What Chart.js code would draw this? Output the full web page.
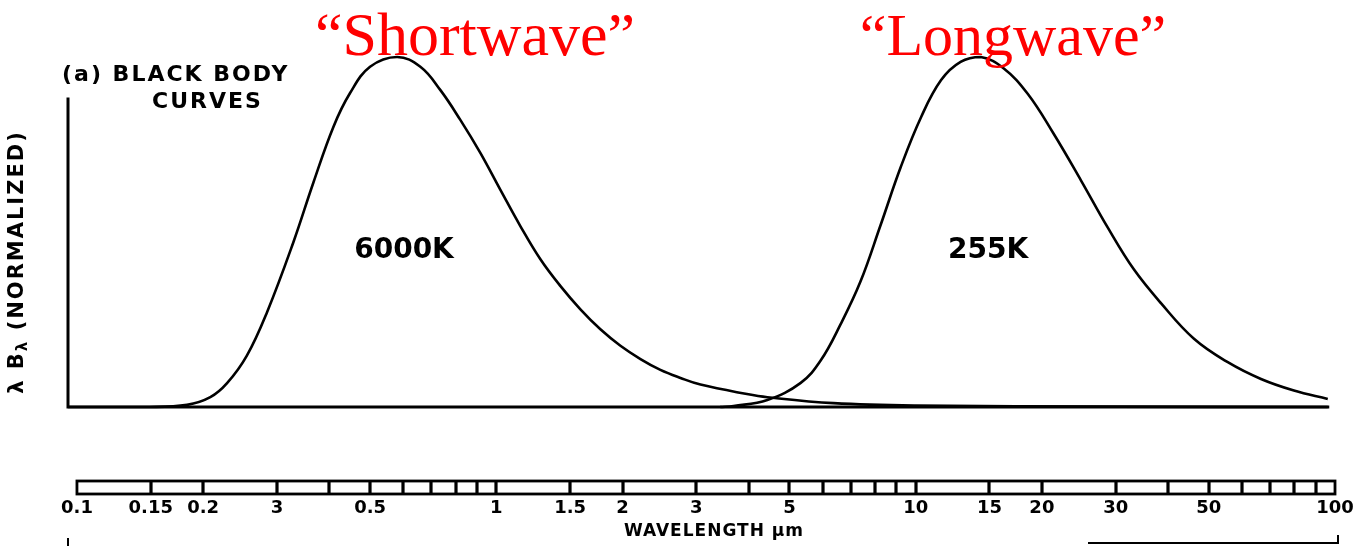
<!DOCTYPE html>
<html>
<head>
<meta charset="utf-8">
<script src="https://cdn.jsdelivr.net/npm/chart.js@4.4.1/dist/chart.umd.min.js"></script>
<style>
  html, body { margin: 0; padding: 0; background: #fff; }
  #wrap { position: relative; width: 1362px; height: 546px; }
</style>
</head>
<body>
<div id="wrap"><canvas id="bbChart"></canvas></div>
<script>
// Curva del cuerpo negro a 6000 K (onda corta)
const shortLambda = [0.0952, 0.149, 0.183, 0.208, 0.228, 0.254, 0.284, 0.328, 0.366, 0.409, 0.448, 0.500, 0.580,
  0.659, 0.735, 0.820, 0.916, 1.022, 1.141, 1.274, 1.421, 1.587, 1.771, 1.977, 2.207, 2.462, 2.749, 3.068,
  3.96, 4.43, 6.37, 10, 30, 96.1];
const shortValue = [0, 0, 0.006, 0.028, 0.068, 0.146, 0.271, 0.470, 0.640, 0.801, 0.897, 0.972, 1.0,
  0.972, 0.906, 0.821, 0.726, 0.621, 0.517, 0.422, 0.346, 0.279, 0.222, 0.175, 0.137, 0.106, 0.083, 0.064,
  0.037, 0.028, 0.011, 0.004, 0.001, 0];

// Curva a 255 K (onda larga)
const longLambda = [3.42, 3.68, 4.43, 5.32, 5.93, 6.62, 7.39, 8.25, 9.21, 10.3, 11.5, 12.8, 14.3, 16.2, 18.5,
  21.3, 24.8, 28.7, 33.1, 38.5, 46.1, 55.5, 66.6, 79.8, 96.1];
const longValue = [0, 0.003, 0.02, 0.069, 0.132, 0.236, 0.359, 0.520, 0.685, 0.828, 0.934, 0.986, 1.0, 0.968, 0.895,
  0.782, 0.647, 0.513, 0.394, 0.296, 0.195, 0.128, 0.080, 0.047, 0.023];

// Regla logarítmica inferior (divisiones y etiquetas, tal cual en el original)
const rulerTicks = [0.1, 0.15, 0.2, 0.3, 0.4, 0.5, 0.6, 0.7, 0.8, 0.9, 1, 1.5, 2, 3, 4, 5, 6, 7, 8, 9,
  10, 15, 20, 30, 40, 50, 60, 70, 80, 90, 100];
const rulerLabels = ['0.1', '0.15', '0.2', '3', '', '0.5', '', '', '', '', '1', '1.5', '2', '3', '', '5', '', '', '', '',
  '10', '15', '20', '30', '', '50', '', '', '', '', '100'];

const seriesNames = ['6000K', '255K'];
const bandNames = ['\u201CShortwave\u201D', '\u201CLongwave\u201D'];

const toPoints = (xs, ys) => xs.map((x, i) => ({ x: x, y: ys[i] }));

const LETTER_FONT = "'DejaVu Sans', sans-serif";

// Dibujo de ejes, regla y rótulos
const figurePlugin = {
  id: 'figure',
  beforeDatasetsDraw(chart) {
    const { ctx, chartArea, scales } = chart;
    const x = scales.x, y = scales.y;
    const y0 = y.getPixelForValue(0);
    ctx.save();
    ctx.strokeStyle = '#000';
    ctx.lineCap = 'square';
    ctx.lineWidth = 3;
    ctx.beginPath();
    ctx.moveTo(chartArea.left, y.getPixelForValue(0.88));
    ctx.lineTo(chartArea.left, y0);
    ctx.lineTo(x.getPixelForValue(longLambda[longLambda.length - 1]), y0);
    ctx.stroke();
    ctx.restore();
  },
  afterDraw(chart) {
    const { ctx, scales } = chart;
    const x = scales.x;
    ctx.save();
    ctx.strokeStyle = '#000';
    ctx.fillStyle = '#000';

    // regla
    const top = 481, bottom = 494;
    const xl = x.getPixelForValue(rulerTicks[0]);
    const xr = x.getPixelForValue(rulerTicks[rulerTicks.length - 1]);
    ctx.lineWidth = 2.8;
    ctx.strokeRect(xl, top, xr - xl, bottom - top);
    ctx.lineWidth = 3.2;
    ctx.beginPath();
    rulerTicks.slice(1, -1).forEach(v => {
      const px = Math.round(x.getPixelForValue(v));
      ctx.moveTo(px, top);
      ctx.lineTo(px, bottom);
    });
    ctx.stroke();

    ctx.font = `bold 18px ${LETTER_FONT}`;
    ctx.textAlign = 'center';
    ctx.textBaseline = 'middle';
    rulerTicks.forEach((v, i) => {
      if (rulerLabels[i]) ctx.fillText(rulerLabels[i], x.getPixelForValue(v), 508);
    });
    ctx.letterSpacing = '1px';
    ctx.font = `bold 17px ${LETTER_FONT}`;
    ctx.fillText('WAVELENGTH \u03BCm', 714, 532);

    // restos del panel siguiente
    ctx.lineWidth = 2;
    ctx.beginPath();
    ctx.moveTo(1088, 543);
    ctx.lineTo(1338, 543);
    ctx.lineTo(1338, 535);
    ctx.moveTo(68, 538);
    ctx.lineTo(68, 546);
    ctx.stroke();

    // rótulos
    ctx.letterSpacing = '2px';
    ctx.font = `bold 22px ${LETTER_FONT}`;
    ctx.textAlign = 'left';
    ctx.fillText('(a) BLACK BODY', 62, 75);
    ctx.fillText('CURVES', 152, 102);

    ctx.letterSpacing = '0px';
    ctx.font = `bold 28px ${LETTER_FONT}`;
    ctx.textAlign = 'center';
    ctx.fillText(seriesNames[0], 404, 251);
    ctx.fillText(seriesNames[1], 988, 251);

    // título del eje vertical: λ Bλ (NORMALIZED)
    ctx.translate(18, 262);
    ctx.rotate(-Math.PI / 2);
    ctx.letterSpacing = '2px';
    const big = `bold 21px ${LETTER_FONT}`, small = `bold 15px ${LETTER_FONT}`;
    const parts = [['\u03BB B', big, 0], ['\u03BB', small, 5], [' (NORMALIZED)', big, 0]];
    let total = 0;
    parts.forEach(p => { ctx.font = p[1]; total += ctx.measureText(p[0]).width; });
    let cx = -total / 2;
    ctx.textAlign = 'left';
    parts.forEach(p => {
      ctx.font = p[1];
      ctx.fillText(p[0], cx, p[2]);
      cx += ctx.measureText(p[0]).width;
    });
    ctx.restore();

    // anotaciones en rojo
    ctx.save();
    ctx.fillStyle = '#f00';
    ctx.font = "62px 'Liberation Serif', 'Times New Roman', serif";
    ctx.textAlign = 'center';
    ctx.textBaseline = 'alphabetic';
    ctx.fillText(bandNames[0], 475, 55);
    ctx.font = "60px 'Liberation Serif', 'Times New Roman', serif";
    ctx.fillText(bandNames[1], 1013, 55);
    ctx.restore();
  }
};

const lineStyle = {
  borderColor: '#000',
  borderWidth: 2.6,
  pointRadius: 0,
  fill: false,
  tension: 0.4,
  clip: false
};

new Chart(document.getElementById('bbChart'), {
  type: 'line',
  data: {
    datasets: [
      { label: seriesNames[0], data: toPoints(shortLambda, shortValue), ...lineStyle },
      { label: seriesNames[1], data: toPoints(longLambda, longValue), ...lineStyle }
    ]
  },
  options: {
    responsive: true,
    maintainAspectRatio: false,
    animation: false,
    events: [],
    layout: { padding: { left: 68, right: 27, top: 57, bottom: 139 } },
    plugins: { legend: { display: false }, tooltip: { enabled: false } },
    scales: {
      x: {
        type: 'logarithmic',
        display: false,
        min: 0.0952,
        max: 100
      },
      y: {
        display: false,
        min: 0,
        max: 1
      }
    }
  },
  plugins: [figurePlugin]
});
</script>
</body>
</html>
